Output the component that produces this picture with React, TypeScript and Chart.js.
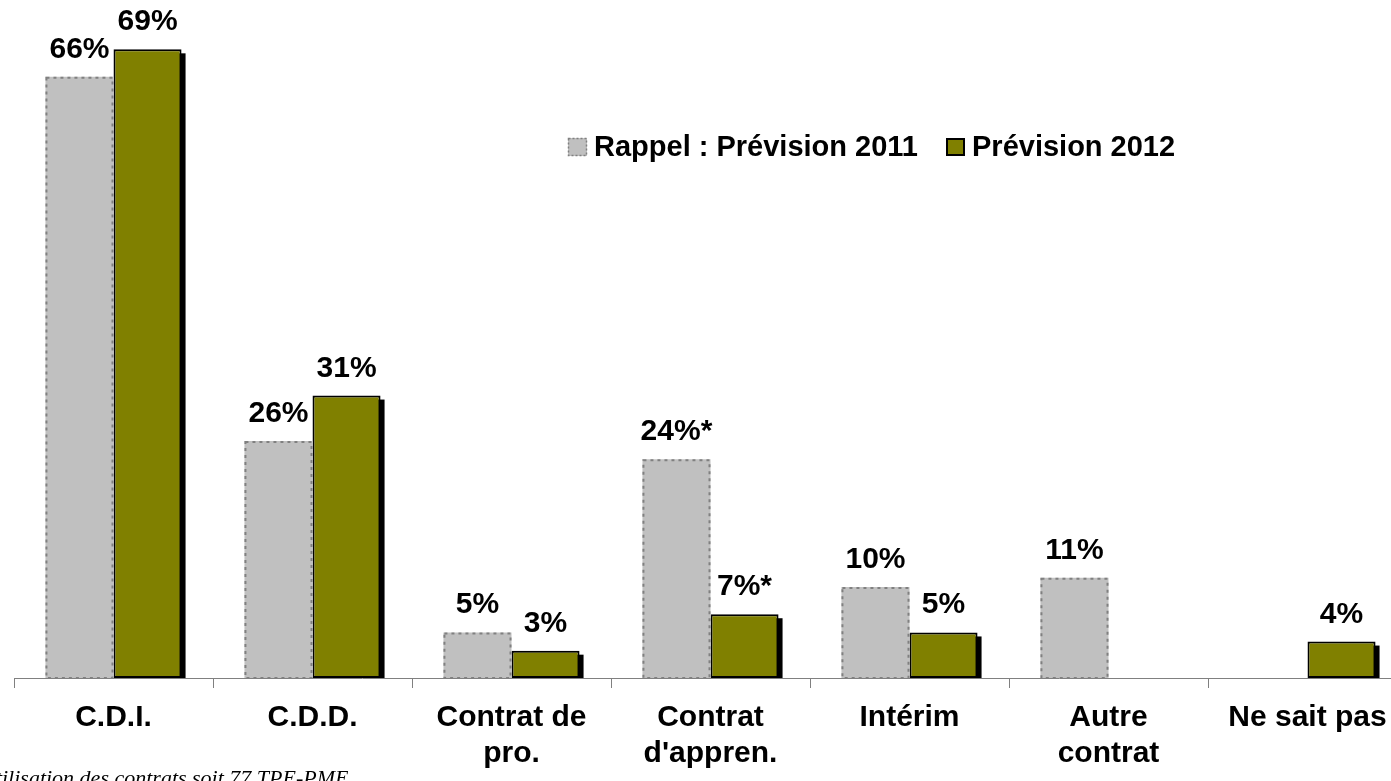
import React, { useEffect, useRef } from "react";
import { Chart, registerables } from "chart.js";

Chart.register(...registerables);

const categories: (string | string[])[] = [
  "C.D.I.",
  "C.D.D.",
  ["Contrat de", "pro."],
  ["Contrat", "d'appren."],
  "Intérim",
  ["Autre", "contrat"],
  "Ne sait pas",
];
const prevision2011: (number | null)[] = [66, 26, 5, 24, 10, 11, null];
const prevision2012: (number | null)[] = [69, 31, 3, 7, 5, null, 4];
const labels2011: string[] = ["66%", "26%", "5%", "24%*", "10%", "11%", ""];
const labels2012: string[] = ["69%", "31%", "3%", "7%*", "5%", "", "4%"];
const seriesNames: string[] = ["Rappel : Prévision 2011", "Prévision 2012"];

const FONT = '"Liberation Sans", Arial, sans-serif';

export default function App() {
  const ref = useRef<HTMLCanvasElement | null>(null);

  useEffect(() => {
    if (!ref.current) return;

    const shadowPlugin = {
      id: "shadowPlugin",
      beforeDatasetDraw(chart: any, args: any) {
        if (args.index !== 1) return;
        const ctx = chart.ctx;
        const meta = chart.getDatasetMeta(1);
        const bottom = chart.chartArea.bottom;
        ctx.save();
        ctx.fillStyle = "#000000";
        meta.data.forEach((el: any, i: number) => {
          if (prevision2012[i] == null) return;
          const { x, y, width, base } = el.getProps(["x", "y", "width", "base"], true);
          const left = x - width / 2 + 4;
          const top = y + 4;
          const h = Math.min(base, bottom) - top;
          if (h > 0) ctx.fillRect(left, top, width, h);
        });
        ctx.restore();
      },
      afterDatasetDraw(chart: any, args: any) {
        if (args.index !== 0) return;
        const ctx = chart.ctx;
        const meta = chart.getDatasetMeta(0);
        ctx.save();
        ctx.strokeStyle = "#808080";
        ctx.lineWidth = 2;
        ctx.setLineDash([3, 4]);
        meta.data.forEach((el: any, i: number) => {
          if (prevision2011[i] == null) return;
          const { x, y, width, base } = el.getProps(["x", "y", "width", "base"], true);
          ctx.strokeRect(x - width / 2 + 1, y + 1, width - 2, base - y - 1);
        });
        ctx.restore();
      },
    };

    const labelPlugin = {
      id: "labelPlugin",
      afterDatasetsDraw(chart: any) {
        const ctx = chart.ctx;
        ctx.save();
        ctx.font = `bold 30px ${FONT}`;
        ctx.fillStyle = "#000000";
        ctx.textAlign = "center";
        ctx.textBaseline = "alphabetic";
        [labels2011, labels2012].forEach((lbls, di) => {
          const meta = chart.getDatasetMeta(di);
          meta.data.forEach((el: any, i: number) => {
            if (!lbls[i]) return;
            const { x, y } = el.getProps(["x", "y"], true);
            ctx.fillText(lbls[i], x, y - 19);
          });
        });

        // legend
        ctx.font = `bold 29px ${FONT}`;
        ctx.textAlign = "left";
        ctx.textBaseline = "middle";
        const ly = 148;
        ctx.fillStyle = "#C0C0C0";
        ctx.fillRect(568, 138, 19, 18);
        ctx.strokeStyle = "#808080";
        ctx.lineWidth = 1.5;
        ctx.setLineDash([2, 2]);
        ctx.strokeRect(568.5, 138.5, 18, 17);
        ctx.setLineDash([]);
        ctx.fillStyle = "#000000";
        ctx.fillText(seriesNames[0], 594, ly);
        ctx.fillStyle = "#808000";
        ctx.fillRect(946, 138, 19, 18);
        ctx.strokeStyle = "#000000";
        ctx.lineWidth = 2;
        ctx.strokeRect(947, 139, 17, 16);
        ctx.fillStyle = "#000000";
        ctx.fillText(seriesNames[1], 972, ly);
        ctx.restore();
      },
    };

    const chart = new Chart(ref.current, {
      type: "bar",
      data: {
        labels: categories,
        datasets: [
          {
            label: seriesNames[0],
            data: prevision2011,
            backgroundColor: "#C0C0C0",
            borderWidth: 0,
            categoryPercentage: 0.684,
            barPercentage: 1.0,
          },
          {
            label: seriesNames[1],
            data: prevision2012,
            backgroundColor: "#808000",
            borderColor: "#000000",
            borderWidth: 2,
            borderSkipped: false,
            categoryPercentage: 0.684,
            barPercentage: 1.0,
          },
        ],
      },
      options: {
        responsive: false,
        animation: false,
        devicePixelRatio: 1,
        layout: { padding: { left: 14, right: 3, top: 22, bottom: 9 } },
        plugins: {
          legend: { display: false },
          tooltip: { enabled: false },
        },
        scales: {
          x: {
            offset: true,
            grid: {
              display: true,
              offset: true,
              drawOnChartArea: false,
              drawTicks: true,
              tickLength: 10,
              color: "#808080",
              lineWidth: 1,
            },
            border: { display: true, color: "#808080", width: 1 },
            ticks: {
              color: "#000000",
              padding: 12,
              maxRotation: 0,
              autoSkip: false,
              font: { family: FONT, size: 30, weight: "bold", lineHeight: 1.2 },
            },
          },
          y: {
            display: false,
            min: 0,
            max: 72,
          },
        },
      },
      plugins: [shadowPlugin, labelPlugin],
    });

    return () => chart.destroy();
  }, []);

  return (
    <div
      style={{
        position: "fixed",
        left: 0,
        top: 0,
        width: 1391,
        height: 781,
        overflow: "hidden",
        background: "#ffffff",
      }}
    >
      <canvas ref={ref} width={1410} height={793} style={{ width: 1410, height: 793, display: "block" }} />
      <div
        style={{
          position: "absolute",
          left: -20,
          top: 765,
          fontFamily: '"Liberation Serif", "Times New Roman", serif',
          fontStyle: "italic",
          fontSize: 22,
          whiteSpace: "nowrap",
          color: "#000",
        }}
      >
        Utilisation des contrats soit 77 TPE-PME
      </div>
    </div>
  );
}
